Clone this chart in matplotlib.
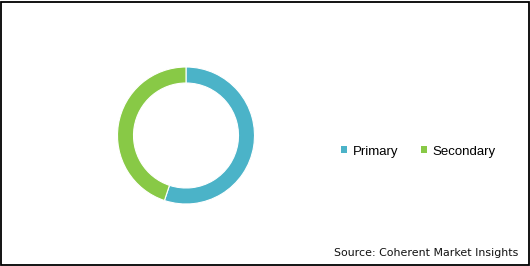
import matplotlib
matplotlib.use('Agg')
import matplotlib.pyplot as plt
from matplotlib.patches import Patch, Rectangle

# 데이터
labels = ['Primary', 'Secondary']
shares = [55.1, 44.9]
colors = ['#4BB3C8', '#88C946']

W, H = 530, 266
fig = plt.figure(figsize=(W / 100, H / 100), dpi=100)
fig.patch.set_facecolor('white')

# 도넛 위치 (픽셀 기준)
cx, cy, r = 186, 135.5, 68.5
ax = fig.add_axes([(cx - r) / W, 1 - (cy + r) / H, 2 * r / W, 2 * r / H])
ax.pie(shares, colors=colors, startangle=90, counterclock=False, radius=1,
       wedgeprops=dict(width=16 / r, edgecolor='white', linewidth=0.8))
ax.set_xlim(-1, 1)
ax.set_ylim(-1, 1)
ax.set_aspect('equal')
ax.axis('off')

# 범례
handles = [Patch(facecolor=c, edgecolor='none') for c in colors]
fig.legend(handles, labels, loc='center left', bbox_to_anchor=(341 / W, 1 - 151.5 / H),
           ncol=2, frameon=False, borderpad=0, borderaxespad=0,
           handlelength=0.45, handleheight=0.45, handletextpad=0.45,
           columnspacing=1.7, prop={'family': 'Liberation Sans', 'size': 9.5})

# 출처
fig.text(518 / W, 1 - 253 / H, 'Source: Coherent Market Insights', ha='right', va='center',
         fontsize=7.9, family='DejaVu Sans', color='#111111')

# 테두리
fig.patches.append(Rectangle((1 / W, 1 / H), 1 - 2.5 / W, 1 - 2.5 / H, transform=fig.transFigure,
                             fill=False, edgecolor='black', linewidth=1.3))

fig.savefig('out.png', dpi=100)
